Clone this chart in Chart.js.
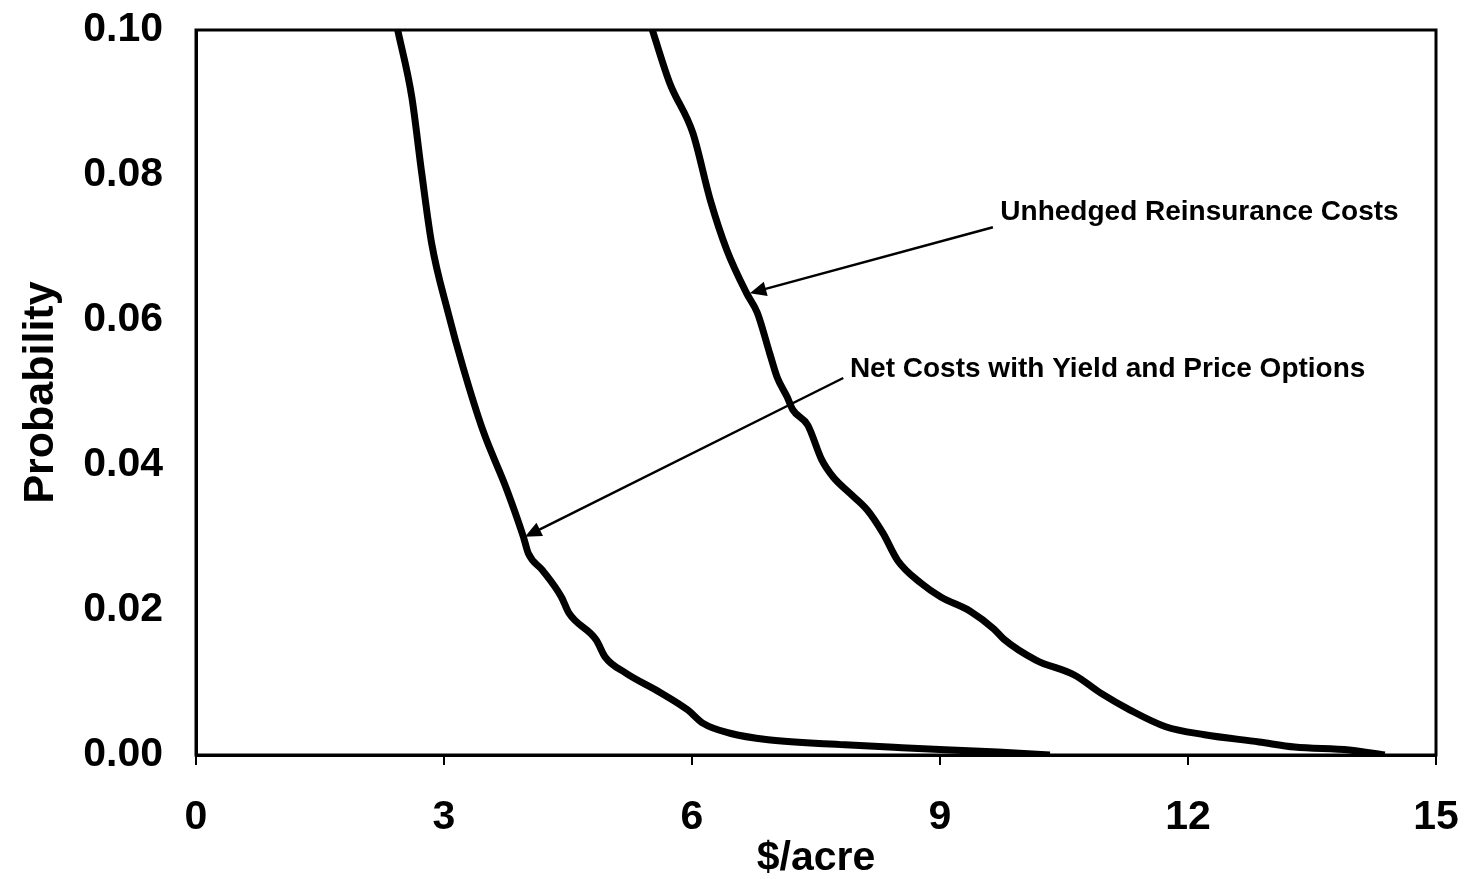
<!DOCTYPE html>
<html lang="en">
<head>
    <meta charset="UTF-8">
    <title>Probability vs $/acre</title>
    <script src="https://cdn.jsdelivr.net/npm/chart.js"></script>
    <style>
        body {
            margin: 0;
            background: #fff;
        }
        #chart-container {
            width: 1464px;
            height: 879px;
        }
    </style>
</head>
<body>
    <div id="chart-container">
        <canvas id="riskChart"></canvas>
    </div>

    <script>
        // Values
        const netX = [2.44, 2.61, 2.73, 2.85, 3.05, 3.23, 3.47, 3.76, 3.96, 4.02, 4.19, 4.42, 4.51, 4.84, 4.95, 5.20, 5.62, 5.95, 6.13, 6.46, 6.92, 7.85, 8.54, 9.70, 10.33];
        const netY = [0.1000, 0.0908, 0.0803, 0.0706, 0.0610, 0.0535, 0.0448, 0.0366, 0.0301, 0.0278, 0.0255, 0.0218, 0.0196, 0.0159, 0.0135, 0.0113, 0.0086, 0.0062, 0.0044, 0.0030, 0.0021, 0.0014, 0.0010, 0.0004, 0.0000];

        const unhedgedX = [5.52, 5.73, 6.01, 6.22, 6.42, 6.66, 6.79, 6.94, 7.03, 7.15, 7.22, 7.40, 7.57, 7.71, 7.91, 8.12, 8.31, 8.49, 8.77, 9.01, 9.37, 9.65, 9.77, 10.16, 10.63, 10.95, 11.30, 11.73, 12.20, 12.86, 13.29, 13.95, 14.38];
        const unhedgedY = [0.1000, 0.0927, 0.0858, 0.0766, 0.0697, 0.0637, 0.0610, 0.0554, 0.0521, 0.0494, 0.0476, 0.0455, 0.0407, 0.0383, 0.0361, 0.0338, 0.0306, 0.0268, 0.0237, 0.0218, 0.0198, 0.0174, 0.0160, 0.0131, 0.0110, 0.0085, 0.0062, 0.0039, 0.0028, 0.0018, 0.0011, 0.0007, 0.0000];

        const xTicks = [0, 3, 6, 9, 12, 15];
        const yTicks = [0, 0.02, 0.04, 0.06, 0.08, 0.10];

        // Text labels with arrows (in data units)
        const notes = [
            { text: 'Unhedged Reinsurance Costs', x: 9.73, y: 0.0748, from: [9.64, 0.0728], to: [6.70, 0.0637] },
            { text: 'Net Costs with Yield and Price Options', x: 7.91, y: 0.0532, from: [7.83, 0.0520], to: [3.98, 0.0301] }
        ];

        const toPoints = (xs, ys) => xs.map((x, i) => ({ x: x, y: ys[i] }));

        const FONT = '"Liberation Sans", Arial, sans-serif';

        // frame round the plot + arrows
        const extras = {
            id: 'extras',
            afterDraw(chart) {
                const { ctx, chartArea, scales } = chart;
                ctx.save();
                ctx.strokeStyle = '#000';
                ctx.lineWidth = 3;
                ctx.strokeRect(chartArea.left, chartArea.top, chartArea.right - chartArea.left, chartArea.bottom - chartArea.top);

                ctx.fillStyle = '#000';
                ctx.font = 'bold 28px ' + FONT;
                ctx.textBaseline = 'middle';
                notes.forEach(n => {
                    ctx.fillText(n.text, scales.x.getPixelForValue(n.x), scales.y.getPixelForValue(n.y));
                    const x1 = scales.x.getPixelForValue(n.from[0]);
                    const y1 = scales.y.getPixelForValue(n.from[1]);
                    const x2 = scales.x.getPixelForValue(n.to[0]);
                    const y2 = scales.y.getPixelForValue(n.to[1]);
                    const a = Math.atan2(y2 - y1, x2 - x1);
                    const len = 18;
                    ctx.lineWidth = 2.5;
                    ctx.beginPath();
                    ctx.moveTo(x1, y1);
                    ctx.lineTo(x2 - Math.cos(a) * len * 0.8, y2 - Math.sin(a) * len * 0.8);
                    ctx.stroke();
                    ctx.beginPath();
                    ctx.moveTo(x2, y2);
                    ctx.lineTo(x2 - len * Math.cos(a - 0.42), y2 - len * Math.sin(a - 0.42));
                    ctx.lineTo(x2 - len * Math.cos(a + 0.42), y2 - len * Math.sin(a + 0.42));
                    ctx.closePath();
                    ctx.fill();
                });
                ctx.restore();
            }
        };

        const lineStyle = {
            borderColor: '#000',
            borderWidth: 7,
            pointRadius: 0,
            fill: false,
            cubicInterpolationMode: 'monotone'
        };

        const ctx = document.getElementById('riskChart').getContext('2d');
        const riskChart = new Chart(ctx, {
            type: 'line',
            data: {
                datasets: [
                    Object.assign({ label: 'Net Costs with Yield and Price Options', data: toPoints(netX, netY) }, lineStyle),
                    Object.assign({ label: 'Unhedged Reinsurance Costs', data: toPoints(unhedgedX, unhedgedY) }, lineStyle)
                ]
            },
            options: {
                responsive: true,
                maintainAspectRatio: false,
                animation: false,
                layout: { autoPadding: false, padding: { top: 30, right: 28, bottom: 0, left: 0 } },
                plugins: {
                    legend: { display: false },
                    tooltip: { enabled: false }
                },
                scales: {
                    x: {
                        type: 'linear',
                        min: 0,
                        max: 15,
                        afterBuildTicks: s => { s.ticks = xTicks.map(v => ({ value: v })); },
                        afterFit: s => {
                            s.height = 124;
                            s.paddingLeft = 0;
                            s.paddingRight = 0;
                        },
                        grid: { drawOnChartArea: false, drawTicks: true, tickLength: 10, color: '#000', lineWidth: 2 },
                        border: { display: true, color: '#000', width: 3 },
                        ticks: {
                            color: '#000',
                            padding: 28,
                            maxRotation: 0,
                            font: { family: FONT, size: 41, weight: 'bold' }
                        },
                        title: {
                            display: true,
                            text: '$/acre',
                            color: '#000',
                            padding: { top: 0, bottom: -4 },
                            font: { family: FONT, size: 41, weight: 'bold' }
                        }
                    },
                    y: {
                        min: 0,
                        max: 0.1,
                        afterBuildTicks: s => { s.ticks = yTicks.map(v => ({ value: v })); },
                        afterFit: s => {
                            s.width = 196;
                            s.paddingTop = 0;
                            s.paddingBottom = 0;
                        },
                        grid: { drawOnChartArea: false, drawTicks: false },
                        border: { display: true, color: '#000', width: 3 },
                        ticks: {
                            color: '#000',
                            padding: 33,
                            callback: v => v.toFixed(2),
                            font: { family: FONT, size: 41, weight: 'bold' }
                        },
                        title: {
                            display: true,
                            text: 'Probability',
                            color: '#000',
                            padding: { top: 15, bottom: 0 },
                            font: { family: FONT, size: 43, weight: 'bold' }
                        }
                    }
                }
            },
            plugins: [extras]
        });
    </script>
</body>
</html>
